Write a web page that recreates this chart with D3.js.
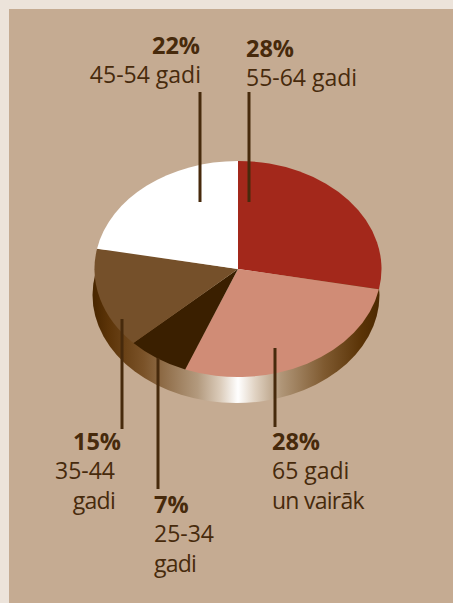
<!DOCTYPE html>
<html><head><meta charset="utf-8">
<script src="https://cdn.jsdelivr.net/npm/d3@7"></script>
<style>html,body{margin:0;padding:0;background:#ece3da;overflow:hidden}svg{display:block}
text{font-family:"Open Sans",sans-serif;fill:#472a0c}</style></head><body>
<div id="chart"></div>
<script>
const categories = ["55-64 gadi", "65 gadi un vairāk", "25-34 gadi", "35-44 gadi", "45-54 gadi"];
const shares = [28, 28, 7, 15, 22];
const sliceColors = ["#a3281b", "#d08c76", "#3a1f00", "#75502a", "#ffffff"];
const labelLines = [["55-64 gadi"], ["65 gadi", "un vairāk"], ["25-34", "gadi"], ["35-44", "gadi"], ["45-54 gadi"]];

const W = 453, H = 603, cx = 238, cy = 269, R = 143.5, squash = 108 / 143.5, depth = 26;
// label / leader layout, same order as categories
const layout = [
  {x: 246, y: 57, anchor: "start", lx: 249, y1: 92, y2: 202},
  {x: 272, y: 450, anchor: "start", lx: 275, y1: 348, y2: 427},
  {x: 154, y: 513, anchor: "start", lx: 158, y1: 358, y2: 489},
  {x: 121, y: 450, anchor: "end", tx: 115, lx: 122, y1: 319, y2: 429},
  {x: 200, y: 54, anchor: "end", tx: 201, lx: 200, y1: 92, y2: 202}
];

const svg = d3.select("#chart").append("svg").attr("width", W).attr("height", H);
svg.append("rect").attr("x", 9).attr("y", 9).attr("width", W - 9).attr("height", H - 9).attr("fill", "#c5ab92");

const defs = svg.append("defs");
const grad = defs.append("linearGradient").attr("id", "wall").attr("gradientUnits", "userSpaceOnUse")
  .attr("x1", -R + 2).attr("x2", R + 2).attr("y1", 0).attr("y2", 0);
[[0, "#4a2700"], [0.05, "#5c3408"], [0.17, "#7a5228"], [0.36, "#b39a7e"], [0.44, "#dccdbc"], [0.5, "#ffffff"],
 [0.56, "#e0d2c2"], [0.65, "#b09678"], [0.8, "#7f5a30"], [0.93, "#5a3306"], [1, "#4a2700"]]
  .forEach(s => grad.append("stop").attr("offset", s[0]).attr("stop-color", s[1]));

const arc = d3.arc().innerRadius(0).outerRadius(R);
const pie = d3.pie().value(d => d).sort(null);

// extruded wall
svg.append("path")
  .attr("transform", `translate(${cx - 2},${cy + depth}) scale(1,${squash})`)
  .attr("d", arc({startAngle: 0, endAngle: 2 * Math.PI}))
  .attr("fill", "url(#wall)");

// top face
svg.append("g").attr("transform", `translate(${cx},${cy}) scale(1,${squash})`)
  .selectAll("path").data(pie(shares)).join("path")
  .attr("d", arc).attr("fill", (d, i) => sliceColors[i]);

// leaders
svg.append("g").selectAll("line").data(layout).join("line")
  .attr("x1", d => d.lx).attr("x2", d => d.lx).attr("y1", d => d.y1).attr("y2", d => d.y2)
  .attr("stroke", "#472a0c").attr("stroke-width", 3);

// labels
const g = svg.append("g").selectAll("g").data(layout).join("g");
g.append("text").attr("x", d => d.x).attr("y", d => d.y).attr("text-anchor", d => d.anchor)
  .attr("font-size", 23.5).attr("font-weight", 700).text((d, i) => shares[i] + "%");
g.each(function(d, i) {
  labelLines[i].forEach((t, j) => {
    d3.select(this).append("text").attr("x", d.tx ?? d.x).attr("y", d.y + 29 + j * 29.5)
      .attr("text-anchor", d.anchor).attr("font-size", 23)
      .attr("letter-spacing", /\d/.test(t) ? null : -0.75).text(t);
  });
});
</script></body></html>
